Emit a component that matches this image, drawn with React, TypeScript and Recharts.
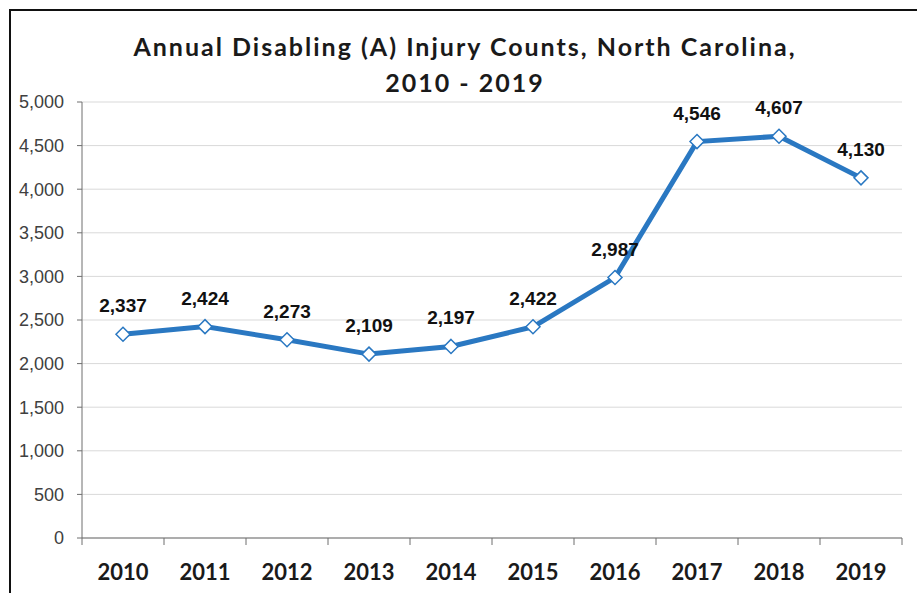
import { LineChart, Line, XAxis, YAxis, CartesianGrid, LabelList } from 'recharts'

const YEARS = ['2010', '2011', '2012', '2013', '2014', '2015', '2016', '2017', '2018', '2019']
const COUNTS = [2337, 2424, 2273, 2109, 2197, 2422, 2987, 4546, 4607, 4130]
const Y_TICKS = [0, 500, 1000, 1500, 2000, 2500, 3000, 3500, 4000, 4500, 5000]
const TITLE = ['Annual Disabling (A) Injury Counts, North Carolina,', '2010 - 2019']

const W = 917
const H = 593
const MARGIN = { top: 102, right: 15, bottom: 0, left: 0 }
const Y_AXIS_W = 82
const PLOT_W = W - MARGIN.left - MARGIN.right - Y_AXIS_W
const BLUE = '#2A78C2'
const AXIS = '#6e6e6e'

// x positions sit in the middle of each category band, ticks on the band edges
const data = YEARS.map((y, i) => ({ pos: i + 0.5, year: y, count: COUNTS[i] }))
const bandEdges = YEARS.map((_, i) => i).concat(YEARS.length)

const fmt = (v: number) => v.toLocaleString('en-US')

function YearTick(props: any) {
  const { x, y, index } = props
  if (index >= YEARS.length) return null
  const bw = PLOT_W / YEARS.length
  return (
    <text
      x={x + bw / 2}
      y={y}
      dy={35}
      textAnchor="middle"
      fontFamily="Lato, 'Open Sans', sans-serif"
      fontWeight={700}
      fontSize={22}
      fill="#1a1a1a"
    >
      {YEARS[index]}
    </text>
  )
}

function Diamond(props: any) {
  const { cx, cy } = props
  if (cx == null || cy == null) return null
  const r = 7
  return (
    <polygon
      points={`${cx},${cy - r} ${cx + r},${cy} ${cx},${cy + r} ${cx - r},${cy}`}
      fill="#fff"
      stroke={BLUE}
      strokeWidth={1.5}
    />
  )
}

function ValueLabel(props: any) {
  const { x, y, value } = props
  return (
    <text
      x={x}
      y={y - 22}
      textAnchor="middle"
      fontFamily="'Liberation Sans', Arial, sans-serif"
      fontWeight={700}
      fontSize={19}
      fill="#111"
    >
      {fmt(value)}
    </text>
  )
}

export default function App() {
  return (
    <div
      style={{
        position: 'absolute',
        left: 0,
        top: 0,
        width: W,
        height: H,
        overflow: 'hidden',
        background: '#fff',
      }}
    >
      <div
        style={{
          position: 'absolute',
          left: 9,
          top: 9,
          width: W + 20,
          height: H + 20,
          border: '2px solid #111',
        }}
      />
      <div
        style={{
          position: 'absolute',
          left: 0,
          top: 28,
          width: 930,
          textAlign: 'center',
          fontFamily: "Lato, 'Open Sans', sans-serif",
          fontWeight: 700,
          fontSize: 25,
          letterSpacing: 2,
          lineHeight: '36px',
          color: '#1a1a1a',
        }}
      >
        {TITLE.map((t) => (
          <div key={t}>{t}</div>
        ))}
      </div>
      <LineChart width={W} height={H} data={data} margin={MARGIN} style={{ position: 'absolute', left: 0, top: 0 }}>
        <CartesianGrid horizontal vertical={false} stroke="#d9d9d9" />
        <XAxis
          dataKey="pos"
          type="number"
          domain={[0, YEARS.length]}
          ticks={bandEdges}
          interval={0}
          height={55}
          stroke={AXIS}
          tickLine={{ stroke: AXIS }}
          tickSize={7}
          tickMargin={0}
          tick={<YearTick />}
        />
        <YAxis
          type="number"
          domain={[0, 5000]}
          ticks={Y_TICKS}
          interval={0}
          width={Y_AXIS_W}
          stroke={AXIS}
          tickLine={{ stroke: AXIS }}
          tickSize={5}
          tickMargin={13}
          tickFormatter={fmt}
          tick={{ fontFamily: "'Liberation Sans', Arial, sans-serif", fontSize: 18, fill: '#404040' }}
        />
        <Line
          type="linear"
          dataKey="count"
          stroke={BLUE}
          strokeWidth={5}
          dot={<Diamond />}
          activeDot={false}
          isAnimationActive={false}
        >
          <LabelList dataKey="count" content={<ValueLabel />} />
        </Line>
      </LineChart>
    </div>
  )
}
